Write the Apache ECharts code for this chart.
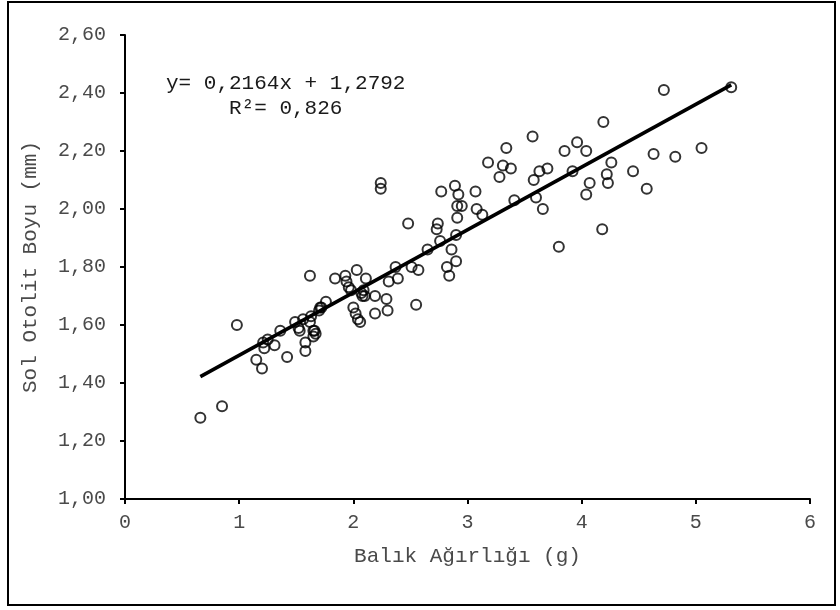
<!DOCTYPE html>
<html>
<head>
<meta charset="utf-8">
<script src="https://cdn.jsdelivr.net/npm/echarts@6/dist/echarts.min.js"></script>
<style>
  html, body { margin: 0; padding: 0; background: #fff; }
  #chart { width: 840px; height: 610px; }
</style>
</head>
<body>
<div id="chart"></div>
<script>
// balık ağırlığı (g) / sol otolit boyu (mm)
const weight = [
  0.66, 0.85, 0.98, 1.15, 1.20, 1.21, 1.22, 1.25, 1.31, 1.36,
  1.42, 1.49, 1.53, 1.52, 1.56, 1.58, 1.58, 1.62, 1.63, 1.62,
  1.65, 1.65, 1.67, 1.66, 1.70, 1.71, 1.72, 1.76, 1.84, 1.93,
  1.94, 1.96, 1.98, 2.00, 2.02, 2.03, 2.04, 2.06, 2.07, 2.08,
  2.09, 2.10, 2.11, 2.19, 2.19, 2.24, 2.24, 2.29, 2.30, 2.31,
  2.37, 2.39, 2.48, 2.51, 2.55, 2.57, 2.65, 2.73, 2.74, 2.76,
  2.77, 2.82, 2.84, 2.86, 2.89, 2.90, 2.90, 2.91, 2.92, 2.91,
  2.95, 3.07, 3.08, 3.13, 3.18, 3.28, 3.31, 3.34, 3.38, 3.41,
  3.57, 3.58, 3.60, 3.63, 3.66, 3.70, 3.80, 3.85, 3.92, 3.96,
  4.04, 4.04, 4.07, 4.18, 4.19, 4.22, 4.23, 4.26, 4.45, 4.57,
  4.63, 4.72, 4.82, 5.05, 5.31
];
const otolith = [
  1.28, 1.32, 1.60, 1.48, 1.45, 1.54, 1.52, 1.55, 1.53, 1.58,
  1.49, 1.61, 1.58, 1.59, 1.62, 1.54, 1.51, 1.61, 1.63, 1.77,
  1.58, 1.56, 1.57, 1.58, 1.65, 1.66, 1.66, 1.68, 1.76, 1.77,
  1.75, 1.73, 1.72, 1.66, 1.64, 1.79, 1.62, 1.61, 1.71, 1.70,
  1.72, 1.70, 1.76, 1.70, 1.64, 2.09, 2.07, 1.69, 1.65, 1.75,
  1.80, 1.76, 1.95, 1.80, 1.67, 1.79, 1.86, 1.93, 1.95, 1.89,
  2.06, 1.80, 1.77, 1.86, 2.08, 1.91, 1.82, 1.97, 2.05, 2.01,
  2.01, 2.06, 2.00, 1.98, 2.16, 2.11, 2.15, 2.21, 2.14, 2.03,
  2.25, 2.10, 2.04, 2.13, 2.00, 2.14, 1.87, 2.20, 2.13, 2.23,
  2.20, 2.05, 2.09, 1.93, 2.30, 2.12, 2.09, 2.16, 2.13, 2.07,
  2.19, 2.41, 2.18, 2.21, 2.42
];
// trend line ends
const trendX = [0.66, 5.31];
const trendY = [1.422, 2.428];

const equationText = 'y= 0,2164x + 1,2792';
const r2Text = 'R²= 0,826';

const FONT = "'Liberation Mono', 'Courier New', monospace";
const textGrey = '#4a4a4a';

const chart = echarts.init(document.getElementById('chart'));

const points = weight.map((w, i) => [w, otolith[i]]);
const trend = trendX.map((x, i) => [x, trendY[i]]);

chart.setOption({
  animation: false,
  backgroundColor: '#fff',
  grid: { left: 125, right: 30, top: 35, bottom: 111 },
  xAxis: {
    type: 'value',
    min: 0, max: 6, interval: 1,
    name: 'Balık Ağırlığı (g)',
    nameLocation: 'middle',
    nameGap: 47,
    nameTextStyle: { fontFamily: FONT, fontSize: 21, color: textGrey },
    axisLine: { onZero: false, lineStyle: { color: '#000', width: 2 } },
    axisTick: { show: true, length: 5, lineStyle: { color: '#000', width: 2 } },
    axisLabel: { fontFamily: FONT, fontSize: 20, color: textGrey, margin: 14 },
    splitLine: { show: false }
  },
  yAxis: {
    type: 'value',
    min: 1, max: 2.6, interval: 0.2,
    name: 'Sol Otolit Boyu (mm)',
    nameLocation: 'middle',
    nameGap: 84,
    nameTextStyle: { fontFamily: FONT, fontSize: 21, color: textGrey },
    axisLine: { show: true, lineStyle: { color: '#000', width: 2 } },
    axisTick: { show: true, length: 5, lineStyle: { color: '#000', width: 2 } },
    axisLabel: {
      fontFamily: FONT, fontSize: 20, color: textGrey, margin: 19,
      formatter: v => v.toFixed(2).replace('.', ',')
    },
    splitLine: { show: false }
  },
  series: [
    {
      type: 'line',
      data: trend,
      symbol: 'none',
      lineStyle: { color: '#000', width: 3.5 },
      z: 2
    },
    {
      type: 'scatter',
      data: points,
      symbol: 'circle',
      symbolSize: 10,
      itemStyle: { color: 'transparent', borderColor: '#000', borderWidth: 2 },
      z: 3
    }
  ],
  graphic: [
    {
      type: 'rect',
      shape: { x: 8, y: 2, width: 827, height: 603 },
      style: { fill: 'none', stroke: '#000', lineWidth: 2 },
      silent: true
    },
    {
      type: 'text',
      x: 166, y: 83,
      style: {
        text: equationText, font: '21px ' + FONT, fill: '#1a1a1a',
        textVerticalAlign: 'middle'
      }
    },
    {
      type: 'text',
      x: 229, y: 108,
      style: {
        text: r2Text, font: '21px ' + FONT, fill: '#1a1a1a',
        textVerticalAlign: 'middle'
      }
    }
  ]
});
</script>
</body>
</html>
